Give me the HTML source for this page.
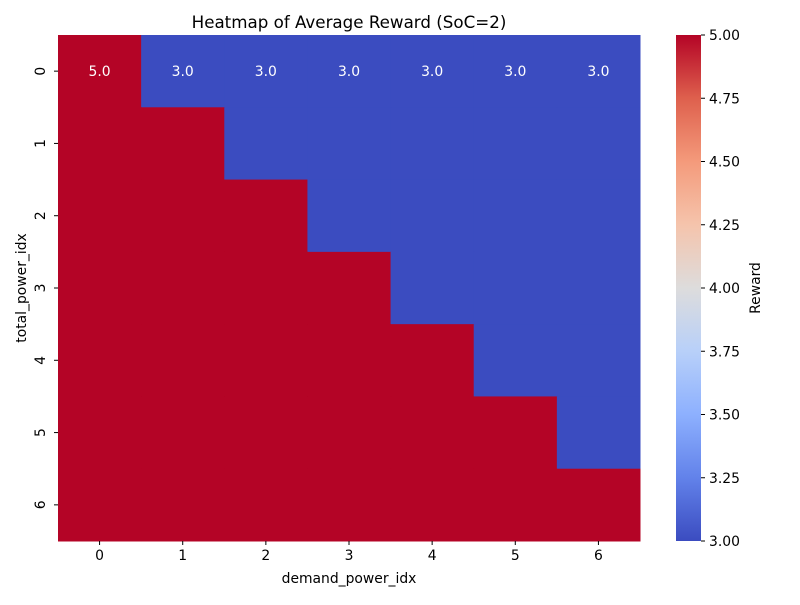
<!DOCTYPE html>
<html><head><meta charset="utf-8"><style>
body{margin:0;background:#fff;}
svg text{font-family:"DejaVu Sans","Liberation Sans",sans-serif;}
</style></head><body>
<svg id="chart" width="800" height="600" xmlns="http://www.w3.org/2000/svg">
<defs><linearGradient id="cw" x1="0" y1="1" x2="0" y2="0">
<stop offset="0" stop-color="#3b4cc0"/><stop offset="0.125" stop-color="#6282ea"/>
<stop offset="0.25" stop-color="#8db0fe"/><stop offset="0.375" stop-color="#b8d0f9"/>
<stop offset="0.5" stop-color="#dddcdc"/><stop offset="0.625" stop-color="#f5c4ac"/>
<stop offset="0.75" stop-color="#f49a7b"/><stop offset="0.875" stop-color="#de604d"/>
<stop offset="1" stop-color="#b40426"/></linearGradient></defs>
<text x="349" y="28" font-size="16.7" text-anchor="middle">Heatmap of Average Reward (SoC=2)</text>
<g id="cells"></g>
<g id="axes"></g>
<rect x="676" y="35" width="25" height="506" fill="url(#cw)"/>
<g id="cbticks"></g>
<text transform="translate(760,288) rotate(-90)" font-size="13.9" text-anchor="middle">Reward</text>
<text x="349" y="583" font-size="13.9" text-anchor="middle">demand_power_idx</text>
<text transform="translate(26,288) rotate(-90)" font-size="13.9" text-anchor="middle">total_power_idx</text>
</svg>
<script>
const cols=[0,1,2,3,4,5,6];
const rows=[0,1,2,3,4,5,6];
const values=[
[5,3,3,3,3,3,3],
[5,5,3,3,3,3,3],
[5,5,5,3,3,3,3],
[5,5,5,5,3,3,3],
[5,5,5,5,5,3,3],
[5,5,5,5,5,5,3],
[5,5,5,5,5,5,5]];
const annotatedRows=[0];
const cbTicks=[3.00,3.25,3.50,3.75,4.00,4.25,4.50,4.75,5.00];
const vmin=3,vmax=5;
const X0=58,X1=640,Y0=35,Y1=541;
const cw=(X1-X0)/cols.length, ch=(Y1-Y0)/rows.length;
const xs=i=>X0+i*cw, ys=j=>Y0+j*ch;
const cbY=v=>Y1-(v-vmin)/(vmax-vmin)*(Y1-Y0);
const NS="http://www.w3.org/2000/svg";
function lerp(a,b,t){return a+(b-a)*t;}
const stops=[[0,[59,76,192]],[0.25,[141,176,254]],[0.5,[221,220,220]],[0.75,[244,154,123]],[1,[180,4,38]]];
function color(v){let t=(v-vmin)/(vmax-vmin);for(let k=0;k<stops.length-1;k++){const[a,ca]=stops[k],[b,cb]=stops[k+1];if(t<=b){const u=(t-a)/(b-a);return `rgb(${ca.map((c,i)=>Math.round(lerp(c,cb[i],u))).join(',')})`;}}return 'rgb(180,4,38)';}
const cells=document.getElementById('cells'),axes=document.getElementById('axes'),cbt=document.getElementById('cbticks');
rows.forEach((r,j)=>cols.forEach((c,i)=>{
 const rect=document.createElementNS(NS,'rect');
 rect.setAttribute('x',xs(i));rect.setAttribute('y',ys(j));
 rect.setAttribute('width',cw+0.5);rect.setAttribute('height',ch+0.5);
 rect.setAttribute('fill',color(values[j][i]));
 
 
 cells.appendChild(rect);
 if(annotatedRows.includes(j)){
  const t=document.createElementNS(NS,'text');
  t.setAttribute('x',xs(i)+cw/2);t.setAttribute('y',ys(j)+ch/2+5);
  t.setAttribute('font-size','13.9');t.setAttribute('fill','#fff');t.setAttribute('text-anchor','middle');
  t.textContent=values[j][i].toFixed(1);
  
  
  cells.appendChild(t);
 }
}));
cols.forEach((c,i)=>{
 const x=xs(i)+cw/2;
 const l=document.createElementNS(NS,'line');l.setAttribute('x1',x);l.setAttribute('x2',x);l.setAttribute('y1',Y1);l.setAttribute('y2',Y1+4);l.setAttribute('stroke','#000');
 
 
 axes.appendChild(l);
 const t=document.createElementNS(NS,'text');t.setAttribute('x',x);t.setAttribute('y',Y1+19);t.setAttribute('font-size','13.9');t.setAttribute('text-anchor','middle');t.textContent=c;
 
 
 axes.appendChild(t);
});
rows.forEach((r,j)=>{
 const y=ys(j)+ch/2;
 const l=document.createElementNS(NS,'line');l.setAttribute('x1',X0-4);l.setAttribute('x2',X0);l.setAttribute('y1',y);l.setAttribute('y2',y);l.setAttribute('stroke','#000');
 
 
 axes.appendChild(l);
 const t=document.createElementNS(NS,'text');t.setAttribute('transform',`translate(45,${y}) rotate(-90)`);t.setAttribute('font-size','13.9');t.setAttribute('text-anchor','middle');t.textContent=r;
 
 
 axes.appendChild(t);
});
cbTicks.forEach(v=>{
 const y=cbY(v);
 const l=document.createElementNS(NS,'line');l.setAttribute('x1',701);l.setAttribute('x2',705);l.setAttribute('y1',y);l.setAttribute('y2',y);l.setAttribute('stroke','#000');
 
 
 cbt.appendChild(l);
 const t=document.createElementNS(NS,'text');t.setAttribute('x',709);t.setAttribute('y',y+5);t.setAttribute('font-size','13.9');t.textContent=v.toFixed(2);
 
 
 cbt.appendChild(t);
});
</script>
</body></html>
